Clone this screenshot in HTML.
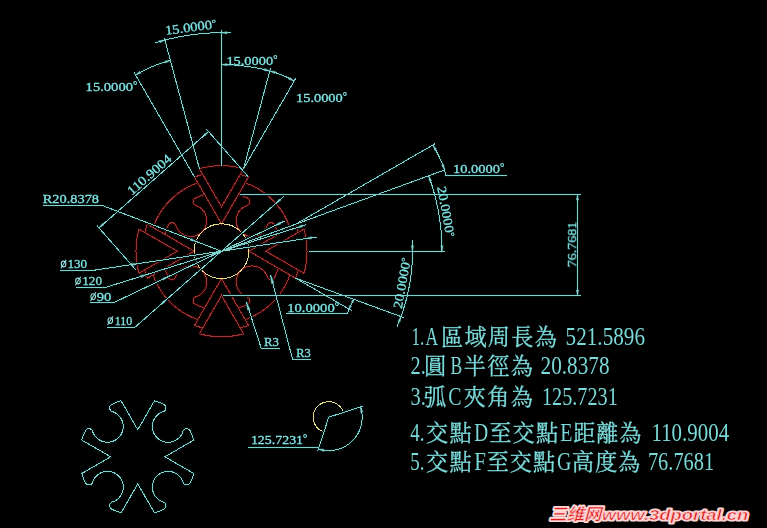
<!DOCTYPE html>
<html><head><meta charset="utf-8"><title>CAD</title>
<style>html,body{margin:0;padding:0;background:#000;}svg{display:block;}</style>
</head><body>
<svg width="767" height="528" viewBox="0 0 767 528">
<rect width="767" height="528" fill="#000"/>
<path d="M243.63 168.59 L238.18 167.32 L232.66 166.41 L227.09 165.86 L221.5 165.68 L215.91 165.86 L210.34 166.41 L204.82 167.32 L199.37 168.59 M199.37 168.59 L221.5 206.93 L243.63 168.59 M202.78 174.51 L198.61 175.65 L194.5 177.02 M240.22 174.51 L244.39 175.65 L248.5 177.02 M194.5 177.02 L221.5 223.78 L248.5 177.02 M197.84 182.81 L192.76 184.79 L187.84 187.14 L183.11 189.86 L178.6 192.93 L174.33 196.32 L170.33 200.03 L166.62 204.03 L163.23 208.3 L160.16 212.81 L157.44 217.54 L155.09 222.46 L153.11 227.54 M204.57 194.46 L199.81 196.11 L195.21 198.15 L195.21 198.15 L194.85 198.35 L194.52 198.59 L194.21 198.85 L193.94 199.15 L193.69 199.47 L193.48 199.82 L193.31 200.19 L193.17 200.57 L193.08 200.97 L193.03 201.37 L193.01 201.78 L193.04 202.18 L193.12 202.58 L193.23 202.97 L193.38 203.35 L193.57 203.71 L193.8 204.05 L194.06 204.36 L194.35 204.65 L194.66 204.9 L195.01 205.12 L195.37 205.3 L195.75 205.45 L195.75 205.45 L197.27 206.02 L198.72 206.75 L200.09 207.62 L201.36 208.63 L202.53 209.76 L203.57 211.01 L204.48 212.35 L205.25 213.79 L205.86 215.29 L206.33 216.84 L206.63 218.44 L206.76 220.06 L206.73 221.68 L206.53 223.3 L206.18 224.88 L205.66 226.42 L204.98 227.9 L204.16 229.3 L203.2 230.61 L202.11 231.81 L200.91 232.9 L199.6 233.86 L198.2 234.68 L196.72 235.36 L195.18 235.88 L193.6 236.23 L191.98 236.43 L190.36 236.46 L188.74 236.33 L187.14 236.03 L185.59 235.56 L184.09 234.95 L182.65 234.18 L181.31 233.27 L180.06 232.23 L178.93 231.06 L177.92 229.79 L177.05 228.42 L176.32 226.97 L175.75 225.45 L175.75 225.45 L175.6 225.07 L175.42 224.71 L175.2 224.36 L174.95 224.05 L174.66 223.76 L174.35 223.5 L174.01 223.27 L173.65 223.08 L173.27 222.93 L172.88 222.82 L172.48 222.74 L172.08 222.71 L171.67 222.73 L171.27 222.78 L170.87 222.87 L170.49 223.01 L170.12 223.18 L169.77 223.39 L169.45 223.64 L169.15 223.91 L168.89 224.22 L168.65 224.55 L168.45 224.91 L168.45 224.91 L166.41 229.51 L164.76 234.27 M138.89 229.07 L137.62 234.52 L136.71 240.04 L136.16 245.61 L135.98 251.2 L136.16 256.79 L136.71 262.36 L137.62 267.88 L138.89 273.33 M138.89 273.33 L177.23 251.2 L138.89 229.07 M144.81 269.92 L145.95 274.09 L147.32 278.2 M144.81 232.48 L145.95 228.31 L147.32 224.2 M147.32 278.2 L194.08 251.2 L147.32 224.2 M153.11 274.86 L155.09 279.94 L157.44 284.86 L160.16 289.59 L163.23 294.1 L166.62 298.37 L170.33 302.37 L174.33 306.08 L178.6 309.47 L183.11 312.54 L187.84 315.26 L192.76 317.61 L197.84 319.59 M164.76 268.13 L166.41 272.89 L168.45 277.49 L168.45 277.49 L168.65 277.85 L168.89 278.18 L169.15 278.49 L169.45 278.76 L169.77 279.01 L170.12 279.22 L170.49 279.39 L170.87 279.53 L171.27 279.62 L171.67 279.67 L172.08 279.69 L172.48 279.66 L172.88 279.58 L173.27 279.47 L173.65 279.32 L174.01 279.13 L174.35 278.9 L174.66 278.64 L174.95 278.35 L175.2 278.04 L175.42 277.69 L175.6 277.33 L175.75 276.95 L175.75 276.95 L176.32 275.43 L177.05 273.98 L177.92 272.61 L178.93 271.34 L180.06 270.17 L181.31 269.13 L182.65 268.22 L184.09 267.45 L185.59 266.84 L187.14 266.37 L188.74 266.07 L190.36 265.94 L191.98 265.97 L193.6 266.17 L195.18 266.52 L196.72 267.04 L198.2 267.72 L199.6 268.54 L200.91 269.5 L202.11 270.59 L203.2 271.79 L204.16 273.1 L204.98 274.5 L205.66 275.98 L206.18 277.52 L206.53 279.1 L206.73 280.72 L206.76 282.34 L206.63 283.96 L206.33 285.56 L205.86 287.11 L205.25 288.61 L204.48 290.05 L203.57 291.39 L202.53 292.64 L201.36 293.77 L200.09 294.78 L198.72 295.65 L197.27 296.38 L195.75 296.95 L195.75 296.95 L195.37 297.1 L195.01 297.28 L194.66 297.5 L194.35 297.75 L194.06 298.04 L193.8 298.35 L193.57 298.69 L193.38 299.05 L193.23 299.43 L193.12 299.82 L193.04 300.22 L193.01 300.62 L193.03 301.03 L193.08 301.43 L193.17 301.83 L193.31 302.21 L193.48 302.58 L193.69 302.93 L193.94 303.25 L194.21 303.55 L194.52 303.81 L194.85 304.05 L195.21 304.25 L195.21 304.25 L199.81 306.29 L204.57 307.94 M199.37 333.81 L204.82 335.08 L210.34 335.99 L215.91 336.54 L221.5 336.72 L227.09 336.54 L232.66 335.99 L238.18 335.08 L243.63 333.81 M243.63 333.81 L221.5 295.47 L199.37 333.81 M240.22 327.89 L244.39 326.75 L248.5 325.38 M202.78 327.89 L198.61 326.75 L194.5 325.38 M248.5 325.38 L221.5 278.62 L194.5 325.38 M245.16 319.59 L250.24 317.61 L255.16 315.26 L259.89 312.54 L264.4 309.47 L268.67 306.08 L272.67 302.37 L276.38 298.37 L279.77 294.1 L282.84 289.59 L285.56 284.86 L287.91 279.94 L289.89 274.86 M238.43 307.94 L243.19 306.29 L247.79 304.25 L247.79 304.25 L248.15 304.05 L248.48 303.81 L248.79 303.55 L249.06 303.25 L249.31 302.93 L249.52 302.58 L249.69 302.21 L249.83 301.83 L249.92 301.43 L249.97 301.03 L249.99 300.62 L249.96 300.22 L249.88 299.82 L249.77 299.43 L249.62 299.05 L249.43 298.69 L249.2 298.35 L248.94 298.04 L248.65 297.75 L248.34 297.5 L247.99 297.28 L247.63 297.1 L247.25 296.95 L247.25 296.95 L245.73 296.38 L244.28 295.65 L242.91 294.78 L241.64 293.77 L240.47 292.64 L239.43 291.39 L238.52 290.05 L237.75 288.61 L237.14 287.11 L236.67 285.56 L236.37 283.96 L236.24 282.34 L236.27 280.72 L236.47 279.1 L236.82 277.52 L237.34 275.98 L238.02 274.5 L238.84 273.1 L239.8 271.79 L240.89 270.59 L242.09 269.5 L243.4 268.54 L244.8 267.72 L246.28 267.04 L247.82 266.52 L249.4 266.17 L251.02 265.97 L252.64 265.94 L254.26 266.07 L255.86 266.37 L257.41 266.84 L258.91 267.45 L260.35 268.22 L261.69 269.13 L262.94 270.17 L264.07 271.34 L265.08 272.61 L265.95 273.98 L266.68 275.43 L267.25 276.95 L267.25 276.95 L267.4 277.33 L267.58 277.69 L267.8 278.04 L268.05 278.35 L268.34 278.64 L268.65 278.9 L268.99 279.13 L269.35 279.32 L269.73 279.47 L270.12 279.58 L270.52 279.66 L270.92 279.69 L271.33 279.67 L271.73 279.62 L272.13 279.53 L272.51 279.39 L272.88 279.22 L273.23 279.01 L273.55 278.76 L273.85 278.49 L274.11 278.18 L274.35 277.85 L274.55 277.49 L274.55 277.49 L276.59 272.89 L278.24 268.13 M304.11 273.33 L305.38 267.88 L306.29 262.36 L306.84 256.79 L307.02 251.2 L306.84 245.61 L306.29 240.04 L305.38 234.52 L304.11 229.07 M304.11 229.07 L265.77 251.2 L304.11 273.33 M298.19 232.48 L297.05 228.31 L295.68 224.2 M298.19 269.92 L297.05 274.09 L295.68 278.2 M295.68 224.2 L248.92 251.2 L295.68 278.2 M289.89 227.54 L287.91 222.46 L285.56 217.54 L282.84 212.81 L279.77 208.3 L276.38 204.03 L272.67 200.03 L268.67 196.32 L264.4 192.93 L259.89 189.86 L255.16 187.14 L250.24 184.79 L245.16 182.81 M278.24 234.27 L276.59 229.51 L274.55 224.91 L274.55 224.91 L274.35 224.55 L274.11 224.22 L273.85 223.91 L273.55 223.64 L273.23 223.39 L272.88 223.18 L272.51 223.01 L272.13 222.87 L271.73 222.78 L271.33 222.73 L270.92 222.71 L270.52 222.74 L270.12 222.82 L269.73 222.93 L269.35 223.08 L268.99 223.27 L268.65 223.5 L268.34 223.76 L268.05 224.05 L267.8 224.36 L267.58 224.71 L267.4 225.07 L267.25 225.45 L267.25 225.45 L266.68 226.97 L265.95 228.42 L265.08 229.79 L264.07 231.06 L262.94 232.23 L261.69 233.27 L260.35 234.18 L258.91 234.95 L257.41 235.56 L255.86 236.03 L254.26 236.33 L252.64 236.46 L251.02 236.43 L249.4 236.23 L247.82 235.88 L246.28 235.36 L244.8 234.68 L243.4 233.86 L242.09 232.9 L240.89 231.81 L239.8 230.61 L238.84 229.3 L238.02 227.9 L237.34 226.42 L236.82 224.88 L236.47 223.3 L236.27 221.68 L236.24 220.06 L236.37 218.44 L236.67 216.84 L237.14 215.29 L237.75 213.79 L238.52 212.35 L239.43 211.01 L240.47 209.76 L241.64 208.63 L242.91 207.62 L244.28 206.75 L245.73 206.02 L247.25 205.45 L247.25 205.45 L247.63 205.3 L247.99 205.12 L248.34 204.9 L248.65 204.65 L248.94 204.36 L249.2 204.05 L249.43 203.71 L249.62 203.35 L249.77 202.97 L249.88 202.58 L249.96 202.18 L249.99 201.78 L249.97 201.37 L249.92 200.97 L249.83 200.57 L249.69 200.19 L249.52 199.82 L249.31 199.47 L249.06 199.15 L248.79 198.85 L248.48 198.59 L248.15 198.35 L247.79 198.15 L247.79 198.15 L243.19 196.11 L238.43 194.46" fill="none" stroke="#2c0000" stroke-width="3"/>
<path d="M243.63 168.59 L238.18 167.32 L232.66 166.41 L227.09 165.86 L221.5 165.68 L215.91 165.86 L210.34 166.41 L204.82 167.32 L199.37 168.59 M199.37 168.59 L221.5 206.93 L243.63 168.59 M202.78 174.51 L198.61 175.65 L194.5 177.02 M240.22 174.51 L244.39 175.65 L248.5 177.02 M194.5 177.02 L221.5 223.78 L248.5 177.02 M197.84 182.81 L192.76 184.79 L187.84 187.14 L183.11 189.86 L178.6 192.93 L174.33 196.32 L170.33 200.03 L166.62 204.03 L163.23 208.3 L160.16 212.81 L157.44 217.54 L155.09 222.46 L153.11 227.54 M204.57 194.46 L199.81 196.11 L195.21 198.15 L195.21 198.15 L194.85 198.35 L194.52 198.59 L194.21 198.85 L193.94 199.15 L193.69 199.47 L193.48 199.82 L193.31 200.19 L193.17 200.57 L193.08 200.97 L193.03 201.37 L193.01 201.78 L193.04 202.18 L193.12 202.58 L193.23 202.97 L193.38 203.35 L193.57 203.71 L193.8 204.05 L194.06 204.36 L194.35 204.65 L194.66 204.9 L195.01 205.12 L195.37 205.3 L195.75 205.45 L195.75 205.45 L197.27 206.02 L198.72 206.75 L200.09 207.62 L201.36 208.63 L202.53 209.76 L203.57 211.01 L204.48 212.35 L205.25 213.79 L205.86 215.29 L206.33 216.84 L206.63 218.44 L206.76 220.06 L206.73 221.68 L206.53 223.3 L206.18 224.88 L205.66 226.42 L204.98 227.9 L204.16 229.3 L203.2 230.61 L202.11 231.81 L200.91 232.9 L199.6 233.86 L198.2 234.68 L196.72 235.36 L195.18 235.88 L193.6 236.23 L191.98 236.43 L190.36 236.46 L188.74 236.33 L187.14 236.03 L185.59 235.56 L184.09 234.95 L182.65 234.18 L181.31 233.27 L180.06 232.23 L178.93 231.06 L177.92 229.79 L177.05 228.42 L176.32 226.97 L175.75 225.45 L175.75 225.45 L175.6 225.07 L175.42 224.71 L175.2 224.36 L174.95 224.05 L174.66 223.76 L174.35 223.5 L174.01 223.27 L173.65 223.08 L173.27 222.93 L172.88 222.82 L172.48 222.74 L172.08 222.71 L171.67 222.73 L171.27 222.78 L170.87 222.87 L170.49 223.01 L170.12 223.18 L169.77 223.39 L169.45 223.64 L169.15 223.91 L168.89 224.22 L168.65 224.55 L168.45 224.91 L168.45 224.91 L166.41 229.51 L164.76 234.27 M138.89 229.07 L137.62 234.52 L136.71 240.04 L136.16 245.61 L135.98 251.2 L136.16 256.79 L136.71 262.36 L137.62 267.88 L138.89 273.33 M138.89 273.33 L177.23 251.2 L138.89 229.07 M144.81 269.92 L145.95 274.09 L147.32 278.2 M144.81 232.48 L145.95 228.31 L147.32 224.2 M147.32 278.2 L194.08 251.2 L147.32 224.2 M153.11 274.86 L155.09 279.94 L157.44 284.86 L160.16 289.59 L163.23 294.1 L166.62 298.37 L170.33 302.37 L174.33 306.08 L178.6 309.47 L183.11 312.54 L187.84 315.26 L192.76 317.61 L197.84 319.59 M164.76 268.13 L166.41 272.89 L168.45 277.49 L168.45 277.49 L168.65 277.85 L168.89 278.18 L169.15 278.49 L169.45 278.76 L169.77 279.01 L170.12 279.22 L170.49 279.39 L170.87 279.53 L171.27 279.62 L171.67 279.67 L172.08 279.69 L172.48 279.66 L172.88 279.58 L173.27 279.47 L173.65 279.32 L174.01 279.13 L174.35 278.9 L174.66 278.64 L174.95 278.35 L175.2 278.04 L175.42 277.69 L175.6 277.33 L175.75 276.95 L175.75 276.95 L176.32 275.43 L177.05 273.98 L177.92 272.61 L178.93 271.34 L180.06 270.17 L181.31 269.13 L182.65 268.22 L184.09 267.45 L185.59 266.84 L187.14 266.37 L188.74 266.07 L190.36 265.94 L191.98 265.97 L193.6 266.17 L195.18 266.52 L196.72 267.04 L198.2 267.72 L199.6 268.54 L200.91 269.5 L202.11 270.59 L203.2 271.79 L204.16 273.1 L204.98 274.5 L205.66 275.98 L206.18 277.52 L206.53 279.1 L206.73 280.72 L206.76 282.34 L206.63 283.96 L206.33 285.56 L205.86 287.11 L205.25 288.61 L204.48 290.05 L203.57 291.39 L202.53 292.64 L201.36 293.77 L200.09 294.78 L198.72 295.65 L197.27 296.38 L195.75 296.95 L195.75 296.95 L195.37 297.1 L195.01 297.28 L194.66 297.5 L194.35 297.75 L194.06 298.04 L193.8 298.35 L193.57 298.69 L193.38 299.05 L193.23 299.43 L193.12 299.82 L193.04 300.22 L193.01 300.62 L193.03 301.03 L193.08 301.43 L193.17 301.83 L193.31 302.21 L193.48 302.58 L193.69 302.93 L193.94 303.25 L194.21 303.55 L194.52 303.81 L194.85 304.05 L195.21 304.25 L195.21 304.25 L199.81 306.29 L204.57 307.94 M199.37 333.81 L204.82 335.08 L210.34 335.99 L215.91 336.54 L221.5 336.72 L227.09 336.54 L232.66 335.99 L238.18 335.08 L243.63 333.81 M243.63 333.81 L221.5 295.47 L199.37 333.81 M240.22 327.89 L244.39 326.75 L248.5 325.38 M202.78 327.89 L198.61 326.75 L194.5 325.38 M248.5 325.38 L221.5 278.62 L194.5 325.38 M245.16 319.59 L250.24 317.61 L255.16 315.26 L259.89 312.54 L264.4 309.47 L268.67 306.08 L272.67 302.37 L276.38 298.37 L279.77 294.1 L282.84 289.59 L285.56 284.86 L287.91 279.94 L289.89 274.86 M238.43 307.94 L243.19 306.29 L247.79 304.25 L247.79 304.25 L248.15 304.05 L248.48 303.81 L248.79 303.55 L249.06 303.25 L249.31 302.93 L249.52 302.58 L249.69 302.21 L249.83 301.83 L249.92 301.43 L249.97 301.03 L249.99 300.62 L249.96 300.22 L249.88 299.82 L249.77 299.43 L249.62 299.05 L249.43 298.69 L249.2 298.35 L248.94 298.04 L248.65 297.75 L248.34 297.5 L247.99 297.28 L247.63 297.1 L247.25 296.95 L247.25 296.95 L245.73 296.38 L244.28 295.65 L242.91 294.78 L241.64 293.77 L240.47 292.64 L239.43 291.39 L238.52 290.05 L237.75 288.61 L237.14 287.11 L236.67 285.56 L236.37 283.96 L236.24 282.34 L236.27 280.72 L236.47 279.1 L236.82 277.52 L237.34 275.98 L238.02 274.5 L238.84 273.1 L239.8 271.79 L240.89 270.59 L242.09 269.5 L243.4 268.54 L244.8 267.72 L246.28 267.04 L247.82 266.52 L249.4 266.17 L251.02 265.97 L252.64 265.94 L254.26 266.07 L255.86 266.37 L257.41 266.84 L258.91 267.45 L260.35 268.22 L261.69 269.13 L262.94 270.17 L264.07 271.34 L265.08 272.61 L265.95 273.98 L266.68 275.43 L267.25 276.95 L267.25 276.95 L267.4 277.33 L267.58 277.69 L267.8 278.04 L268.05 278.35 L268.34 278.64 L268.65 278.9 L268.99 279.13 L269.35 279.32 L269.73 279.47 L270.12 279.58 L270.52 279.66 L270.92 279.69 L271.33 279.67 L271.73 279.62 L272.13 279.53 L272.51 279.39 L272.88 279.22 L273.23 279.01 L273.55 278.76 L273.85 278.49 L274.11 278.18 L274.35 277.85 L274.55 277.49 L274.55 277.49 L276.59 272.89 L278.24 268.13 M304.11 273.33 L305.38 267.88 L306.29 262.36 L306.84 256.79 L307.02 251.2 L306.84 245.61 L306.29 240.04 L305.38 234.52 L304.11 229.07 M304.11 229.07 L265.77 251.2 L304.11 273.33 M298.19 232.48 L297.05 228.31 L295.68 224.2 M298.19 269.92 L297.05 274.09 L295.68 278.2 M295.68 224.2 L248.92 251.2 L295.68 278.2 M289.89 227.54 L287.91 222.46 L285.56 217.54 L282.84 212.81 L279.77 208.3 L276.38 204.03 L272.67 200.03 L268.67 196.32 L264.4 192.93 L259.89 189.86 L255.16 187.14 L250.24 184.79 L245.16 182.81 M278.24 234.27 L276.59 229.51 L274.55 224.91 L274.55 224.91 L274.35 224.55 L274.11 224.22 L273.85 223.91 L273.55 223.64 L273.23 223.39 L272.88 223.18 L272.51 223.01 L272.13 222.87 L271.73 222.78 L271.33 222.73 L270.92 222.71 L270.52 222.74 L270.12 222.82 L269.73 222.93 L269.35 223.08 L268.99 223.27 L268.65 223.5 L268.34 223.76 L268.05 224.05 L267.8 224.36 L267.58 224.71 L267.4 225.07 L267.25 225.45 L267.25 225.45 L266.68 226.97 L265.95 228.42 L265.08 229.79 L264.07 231.06 L262.94 232.23 L261.69 233.27 L260.35 234.18 L258.91 234.95 L257.41 235.56 L255.86 236.03 L254.26 236.33 L252.64 236.46 L251.02 236.43 L249.4 236.23 L247.82 235.88 L246.28 235.36 L244.8 234.68 L243.4 233.86 L242.09 232.9 L240.89 231.81 L239.8 230.61 L238.84 229.3 L238.02 227.9 L237.34 226.42 L236.82 224.88 L236.47 223.3 L236.27 221.68 L236.24 220.06 L236.37 218.44 L236.67 216.84 L237.14 215.29 L237.75 213.79 L238.52 212.35 L239.43 211.01 L240.47 209.76 L241.64 208.63 L242.91 207.62 L244.28 206.75 L245.73 206.02 L247.25 205.45 L247.25 205.45 L247.63 205.3 L247.99 205.12 L248.34 204.9 L248.65 204.65 L248.94 204.36 L249.2 204.05 L249.43 203.71 L249.62 203.35 L249.77 202.97 L249.88 202.58 L249.96 202.18 L249.99 201.78 L249.97 201.37 L249.92 200.97 L249.83 200.57 L249.69 200.19 L249.52 199.82 L249.31 199.47 L249.06 199.15 L248.79 198.85 L248.48 198.59 L248.15 198.35 L247.79 198.15 L247.79 198.15 L243.19 196.11 L238.43 194.46" fill="none" stroke="#983636" stroke-width="1" shape-rendering="crispEdges"/>
<circle cx="221.5" cy="251.2" r="27.42" fill="none" stroke="#e6de8c" stroke-width="1" shape-rendering="crispEdges"/>
<path d="M343.45 412.45 L342.89 410.97 L342.18 409.55 L341.33 408.21 L340.35 406.97 L339.24 405.84 L338.03 404.82 L336.72 403.93 L335.32 403.18 L333.86 402.58 L332.34 402.13 L330.78 401.84 L329.2 401.71 L327.62 401.74 L326.05 401.93 L324.5 402.28 L323 402.79 L321.56 403.44 L320.19 404.24 L318.92 405.18 L317.74 406.24 L316.68 407.42 L315.74 408.69 L314.94 410.06 L314.29 411.5 L313.78 413 L313.43 414.55 L313.24 416.12 L313.21 417.7 L313.34 419.28 L313.63 420.84 L314.08 422.36 L314.68 423.82 L315.43 425.22 L316.32 426.53 L317.34 427.74 L318.47 428.85 L319.71 429.83 L321.05 430.68 L322.47 431.39 L323.95 431.95" fill="none" stroke="#e6de8c" stroke-width="1" shape-rendering="crispEdges"/>
<path d="M221.5 29.6 L221.5 165.68 M199.37 168.59 L164.3 37.73 M231.41 32.92 L228.17 32.8 L224.93 32.73 L221.69 32.7 L218.45 32.72 L215.21 32.79 L211.97 32.91 L208.73 33.07 L205.5 33.29 L202.27 33.55 L199.04 33.86 L195.82 34.21 L192.6 34.62 L189.39 35.07 L186.19 35.57 L182.99 36.12 L179.81 36.71 L176.63 37.36 L173.46 38.05 L170.31 38.78 L167.16 39.56 L164.03 40.39 L160.91 41.27 L157.8 42.19 L154.71 43.16 M194.5 177.02 L134.04 72.3 M170.39 60.46 L168.87 60.88 L167.36 61.31 L165.85 61.76 L164.34 62.23 L162.84 62.71 L161.34 63.21 L159.85 63.72 L158.37 64.25 L156.89 64.8 L155.42 65.37 L153.95 65.94 L152.49 66.54 L151.04 67.15 L149.59 67.78 L148.16 68.42 L146.72 69.08 L145.3 69.75 L143.88 70.44 L142.47 71.15 L141.07 71.87 L139.68 72.6 L138.29 73.35 L136.91 74.12 L135.54 74.9 M243.63 168.59 L270.68 67.67 M269.8 70.96 L267.83 70.44 L265.85 69.95 L263.87 69.47 L261.89 69.02 L259.9 68.59 L257.9 68.19 L255.91 67.8 L253.9 67.43 L251.9 67.09 L249.89 66.77 L247.87 66.47 L245.86 66.2 L243.84 65.94 L241.81 65.71 L239.79 65.5 L237.76 65.31 L235.73 65.14 L233.7 65 L231.67 64.88 L229.64 64.78 L227.61 64.7 L225.57 64.64 L223.54 64.61 L221.5 64.6 M243.63 168.59 L295.67 78.46 M294.17 81.06 L293.22 80.51 L292.25 79.97 L291.28 79.45 L290.31 78.93 L289.33 78.43 L288.34 77.94 L287.35 77.46 L286.35 76.98 L285.35 76.52 L284.34 76.07 L283.33 75.64 L282.32 75.21 L281.29 74.79 L280.27 74.39 L279.24 73.99 L278.21 73.61 L277.17 73.24 L276.13 72.88 L275.08 72.53 L274.03 72.19 L272.98 71.87 L271.92 71.55 L270.86 71.25 L269.8 70.96 M247.84 176.27 L206.58 129.32 M135.59 269.58 L96.98 225.63 M208.56 131.57 L98.96 227.89 M42.8 205.1 L101.4 205.1 L221.5 251.2 M60 270.6 L91.6 270.6 L316.74 236.98 M75.6 287.6 L105 287.6 L306.35 224.69 M89.9 302.7 L113.7 302.7 L284.48 221.11 M106.9 327.3 L134.9 327.3 L283.85 196.41 M239.63 194.5 L581 194.5 M222.7 295.5 L581 295.5 M577.5 194.5 L577.5 295.5 M308.7 251.5 L445 251.5 M221.5 251.2 L444.96 169.87 M442 251.2 L441.98 247.99 L441.91 244.79 L441.79 241.58 L441.63 238.38 L441.42 235.18 L441.16 231.98 L440.86 228.79 L440.51 225.6 L440.11 222.42 L439.67 219.24 L439.18 216.07 L438.65 212.91 L438.07 209.76 L437.44 206.61 L436.77 203.48 L436.06 200.35 L435.29 197.23 L434.49 194.13 L433.63 191.04 L432.74 187.96 L431.79 184.89 L430.81 181.84 L429.78 178.81 L428.7 175.78 M295.68 224.2 L435.11 143.7 M432.95 144.95 L433.52 145.95 L434.08 146.95 L434.64 147.96 L435.19 148.98 L435.74 149.99 L436.27 151.01 L436.8 152.04 L437.32 153.07 L437.84 154.1 L438.34 155.13 L438.84 156.17 L439.33 157.22 L439.81 158.26 L440.29 159.31 L440.76 160.36 L441.22 161.42 L441.67 162.48 L442.12 163.54 L442.55 164.61 L442.98 165.68 L443.4 166.75 L443.82 167.83 L444.22 168.91 L444.62 169.99 M444.62 169.99 L445.6 175.6 L506.9 175.6 M295.68 278.2 L404.27 317.72 M412.16 239.87 L412.35 243.56 L412.46 247.26 L412.5 250.95 L412.47 254.64 L412.37 258.34 L412.19 262.03 L411.95 265.71 L411.63 269.4 L411.24 273.07 L410.79 276.74 L410.26 280.39 L409.66 284.04 L408.99 287.67 L408.24 291.29 L407.43 294.9 L406.55 298.48 L405.61 302.06 L404.59 305.61 L403.5 309.14 L402.35 312.65 L401.12 316.13 L399.83 319.6 L398.48 323.03 L397.05 326.44 M295.68 278.2 L351.97 310.7 M353.47 299.23 L353.32 299.65 L353.16 300.07 L353 300.49 L352.84 300.91 L352.67 301.32 L352.5 301.73 L352.33 302.15 L352.15 302.56 L351.97 302.97 L351.79 303.38 L351.61 303.78 L351.42 304.19 L351.23 304.6 L351.04 305 L350.84 305.4 L350.64 305.8 L350.44 306.2 L350.23 306.6 L350.02 306.99 L349.81 307.39 L349.6 307.78 L349.38 308.17 L349.16 308.56 L348.94 308.95 M348.94 308.95 L347.6 313.4 L286 313.4 M280 348.5 L261.3 348.5 L246.3 301.7 M311.3 359 L292.5 359 L270.6 275 M121.07 400.74 L116.37 402.37 L111.82 404.38 L111.82 404.38 L111.47 404.58 L111.14 404.81 L110.84 405.08 L110.57 405.37 L110.32 405.69 L110.12 406.04 L109.95 406.4 L109.81 406.78 L109.72 407.17 L109.67 407.57 L109.65 407.97 L109.68 408.37 L109.75 408.76 L109.87 409.15 L110.02 409.52 L110.2 409.88 L110.43 410.21 L110.68 410.52 L110.97 410.8 L111.28 411.05 L111.62 411.27 L111.98 411.45 L112.36 411.59 L112.36 411.59 L113.86 412.16 L115.29 412.88 L116.64 413.74 L117.9 414.74 L119.05 415.86 L120.08 417.09 L120.98 418.42 L121.74 419.83 L122.35 421.32 L122.81 422.85 L123.1 424.43 L123.24 426.03 L123.21 427.64 L123.01 429.23 L122.66 430.79 L122.15 432.31 L121.48 433.77 L120.67 435.16 L119.72 436.45 L118.65 437.65 L117.45 438.72 L116.16 439.67 L114.77 440.48 L113.31 441.15 L111.79 441.66 L110.23 442.01 L108.64 442.21 L107.03 442.24 L105.43 442.1 L103.85 441.81 L102.32 441.35 L100.83 440.74 L99.42 439.98 L98.09 439.08 L96.86 438.05 L95.74 436.9 L94.74 435.64 L93.88 434.29 L93.16 432.86 L92.59 431.36 L92.59 431.36 L92.45 430.98 L92.27 430.62 L92.05 430.28 L91.8 429.97 L91.52 429.68 L91.21 429.43 L90.88 429.2 L90.52 429.02 L90.15 428.87 L89.76 428.75 L89.37 428.68 L88.97 428.65 L88.57 428.67 L88.17 428.72 L87.78 428.81 L87.4 428.95 L87.04 429.12 L86.69 429.32 L86.37 429.57 L86.08 429.84 L85.81 430.14 L85.58 430.47 L85.38 430.82 L85.38 430.82 L83.37 435.37 L81.74 440.07 L110.71 456.8 L81.74 473.53 L83.37 478.23 L85.38 482.78 L85.38 482.78 L85.58 483.13 L85.81 483.46 L86.08 483.76 L86.37 484.03 L86.69 484.28 L87.04 484.48 L87.4 484.65 L87.78 484.79 L88.17 484.88 L88.57 484.93 L88.97 484.95 L89.37 484.92 L89.76 484.85 L90.15 484.73 L90.52 484.58 L90.88 484.4 L91.21 484.17 L91.52 483.92 L91.8 483.63 L92.05 483.32 L92.27 482.98 L92.45 482.62 L92.59 482.24 L92.59 482.24 L93.16 480.74 L93.88 479.31 L94.74 477.96 L95.74 476.7 L96.86 475.55 L98.09 474.52 L99.42 473.62 L100.83 472.86 L102.32 472.25 L103.85 471.79 L105.43 471.5 L107.03 471.36 L108.64 471.39 L110.23 471.59 L111.79 471.94 L113.31 472.45 L114.77 473.12 L116.16 473.93 L117.45 474.88 L118.65 475.95 L119.72 477.15 L120.67 478.44 L121.48 479.83 L122.15 481.29 L122.66 482.81 L123.01 484.37 L123.21 485.96 L123.24 487.57 L123.1 489.17 L122.81 490.75 L122.35 492.28 L121.74 493.77 L120.98 495.18 L120.08 496.51 L119.05 497.74 L117.9 498.86 L116.64 499.86 L115.29 500.72 L113.86 501.44 L112.36 502.01 L112.36 502.01 L111.98 502.15 L111.62 502.33 L111.28 502.55 L110.97 502.8 L110.68 503.08 L110.43 503.39 L110.2 503.72 L110.02 504.08 L109.87 504.45 L109.75 504.84 L109.68 505.23 L109.65 505.63 L109.67 506.03 L109.72 506.43 L109.81 506.82 L109.95 507.2 L110.12 507.56 L110.32 507.91 L110.57 508.23 L110.84 508.52 L111.14 508.79 L111.47 509.02 L111.82 509.22 L111.82 509.22 L116.37 511.23 L121.07 512.86 L137.8 483.89 L154.53 512.86 L159.23 511.23 L163.78 509.22 L163.78 509.22 L164.13 509.02 L164.46 508.79 L164.76 508.52 L165.03 508.23 L165.28 507.91 L165.48 507.56 L165.65 507.2 L165.79 506.82 L165.88 506.43 L165.93 506.03 L165.95 505.63 L165.92 505.23 L165.85 504.84 L165.73 504.45 L165.58 504.08 L165.4 503.72 L165.17 503.39 L164.92 503.08 L164.63 502.8 L164.32 502.55 L163.98 502.33 L163.62 502.15 L163.24 502.01 L163.24 502.01 L161.74 501.44 L160.31 500.72 L158.96 499.86 L157.7 498.86 L156.55 497.74 L155.52 496.51 L154.62 495.18 L153.86 493.77 L153.25 492.28 L152.79 490.75 L152.5 489.17 L152.36 487.57 L152.39 485.96 L152.59 484.37 L152.94 482.81 L153.45 481.29 L154.12 479.83 L154.93 478.44 L155.88 477.15 L156.95 475.95 L158.15 474.88 L159.44 473.93 L160.83 473.12 L162.29 472.45 L163.81 471.94 L165.37 471.59 L166.96 471.39 L168.57 471.36 L170.17 471.5 L171.75 471.79 L173.28 472.25 L174.77 472.86 L176.18 473.62 L177.51 474.52 L178.74 475.55 L179.86 476.7 L180.86 477.96 L181.72 479.31 L182.44 480.74 L183.01 482.24 L183.01 482.24 L183.15 482.62 L183.33 482.98 L183.55 483.32 L183.8 483.63 L184.08 483.92 L184.39 484.17 L184.72 484.4 L185.08 484.58 L185.45 484.73 L185.84 484.85 L186.23 484.92 L186.63 484.95 L187.03 484.93 L187.43 484.88 L187.82 484.79 L188.2 484.65 L188.56 484.48 L188.91 484.28 L189.23 484.03 L189.52 483.76 L189.79 483.46 L190.02 483.13 L190.22 482.78 L190.22 482.78 L192.23 478.23 L193.86 473.53 L164.89 456.8 L193.86 440.07 L192.23 435.37 L190.22 430.82 L190.22 430.82 L190.02 430.47 L189.79 430.14 L189.52 429.84 L189.23 429.57 L188.91 429.32 L188.56 429.12 L188.2 428.95 L187.82 428.81 L187.43 428.72 L187.03 428.67 L186.63 428.65 L186.23 428.68 L185.84 428.75 L185.45 428.87 L185.08 429.02 L184.72 429.2 L184.39 429.43 L184.08 429.68 L183.8 429.97 L183.55 430.28 L183.33 430.62 L183.15 430.98 L183.01 431.36 L183.01 431.36 L182.44 432.86 L181.72 434.29 L180.86 435.64 L179.86 436.9 L178.74 438.05 L177.51 439.08 L176.18 439.98 L174.77 440.74 L173.28 441.35 L171.75 441.81 L170.17 442.1 L168.57 442.24 L166.96 442.21 L165.37 442.01 L163.81 441.66 L162.29 441.15 L160.83 440.48 L159.44 439.67 L158.15 438.72 L156.95 437.65 L155.88 436.45 L154.93 435.16 L154.12 433.77 L153.45 432.31 L152.94 430.79 L152.59 429.23 L152.39 427.64 L152.36 426.03 L152.5 424.43 L152.79 422.85 L153.25 421.32 L153.86 419.83 L154.62 418.42 L155.52 417.09 L156.55 415.86 L157.7 414.74 L158.96 413.74 L160.31 412.88 L161.74 412.16 L163.24 411.59 L163.24 411.59 L163.62 411.45 L163.98 411.27 L164.32 411.05 L164.63 410.8 L164.92 410.52 L165.17 410.21 L165.4 409.88 L165.58 409.52 L165.73 409.15 L165.85 408.76 L165.92 408.37 L165.95 407.97 L165.93 407.57 L165.88 407.17 L165.79 406.78 L165.65 406.4 L165.48 406.04 L165.28 405.69 L165.03 405.37 L164.76 405.08 L164.46 404.81 L164.13 404.58 L163.78 404.38 L163.78 404.38 L159.23 402.37 L154.53 400.74 L137.8 429.71 Z M363.35 406.04 L328.7 417.2 L317.87 450.8 M360.59 406.92 L361.39 409.88 L361.92 412.89 L362.18 415.95 L362.15 419.01 L361.85 422.05 L361.26 425.06 L360.41 428 L359.29 430.85 L357.92 433.59 L356.3 436.19 L354.45 438.63 L352.39 440.89 L350.13 442.95 L347.69 444.8 L345.09 446.42 L342.35 447.79 L339.5 448.91 L336.56 449.76 L333.55 450.35 L330.51 450.65 L327.45 450.68 L324.39 450.42 L321.38 449.89 L318.42 449.09 M319.3 447.4 L247.7 447.4" fill="none" stroke="#001212" stroke-width="3"/>
<path d="M221.5 29.6 L221.5 165.68 M199.37 168.59 L164.3 37.73 M231.41 32.92 L228.17 32.8 L224.93 32.73 L221.69 32.7 L218.45 32.72 L215.21 32.79 L211.97 32.91 L208.73 33.07 L205.5 33.29 L202.27 33.55 L199.04 33.86 L195.82 34.21 L192.6 34.62 L189.39 35.07 L186.19 35.57 L182.99 36.12 L179.81 36.71 L176.63 37.36 L173.46 38.05 L170.31 38.78 L167.16 39.56 L164.03 40.39 L160.91 41.27 L157.8 42.19 L154.71 43.16 M194.5 177.02 L134.04 72.3 M170.39 60.46 L168.87 60.88 L167.36 61.31 L165.85 61.76 L164.34 62.23 L162.84 62.71 L161.34 63.21 L159.85 63.72 L158.37 64.25 L156.89 64.8 L155.42 65.37 L153.95 65.94 L152.49 66.54 L151.04 67.15 L149.59 67.78 L148.16 68.42 L146.72 69.08 L145.3 69.75 L143.88 70.44 L142.47 71.15 L141.07 71.87 L139.68 72.6 L138.29 73.35 L136.91 74.12 L135.54 74.9 M243.63 168.59 L270.68 67.67 M269.8 70.96 L267.83 70.44 L265.85 69.95 L263.87 69.47 L261.89 69.02 L259.9 68.59 L257.9 68.19 L255.91 67.8 L253.9 67.43 L251.9 67.09 L249.89 66.77 L247.87 66.47 L245.86 66.2 L243.84 65.94 L241.81 65.71 L239.79 65.5 L237.76 65.31 L235.73 65.14 L233.7 65 L231.67 64.88 L229.64 64.78 L227.61 64.7 L225.57 64.64 L223.54 64.61 L221.5 64.6 M243.63 168.59 L295.67 78.46 M294.17 81.06 L293.22 80.51 L292.25 79.97 L291.28 79.45 L290.31 78.93 L289.33 78.43 L288.34 77.94 L287.35 77.46 L286.35 76.98 L285.35 76.52 L284.34 76.07 L283.33 75.64 L282.32 75.21 L281.29 74.79 L280.27 74.39 L279.24 73.99 L278.21 73.61 L277.17 73.24 L276.13 72.88 L275.08 72.53 L274.03 72.19 L272.98 71.87 L271.92 71.55 L270.86 71.25 L269.8 70.96 M247.84 176.27 L206.58 129.32 M135.59 269.58 L96.98 225.63 M208.56 131.57 L98.96 227.89 M42.8 205.1 L101.4 205.1 L221.5 251.2 M60 270.6 L91.6 270.6 L316.74 236.98 M75.6 287.6 L105 287.6 L306.35 224.69 M89.9 302.7 L113.7 302.7 L284.48 221.11 M106.9 327.3 L134.9 327.3 L283.85 196.41 M239.63 194.5 L581 194.5 M222.7 295.5 L581 295.5 M577.5 194.5 L577.5 295.5 M308.7 251.5 L445 251.5 M221.5 251.2 L444.96 169.87 M442 251.2 L441.98 247.99 L441.91 244.79 L441.79 241.58 L441.63 238.38 L441.42 235.18 L441.16 231.98 L440.86 228.79 L440.51 225.6 L440.11 222.42 L439.67 219.24 L439.18 216.07 L438.65 212.91 L438.07 209.76 L437.44 206.61 L436.77 203.48 L436.06 200.35 L435.29 197.23 L434.49 194.13 L433.63 191.04 L432.74 187.96 L431.79 184.89 L430.81 181.84 L429.78 178.81 L428.7 175.78 M295.68 224.2 L435.11 143.7 M432.95 144.95 L433.52 145.95 L434.08 146.95 L434.64 147.96 L435.19 148.98 L435.74 149.99 L436.27 151.01 L436.8 152.04 L437.32 153.07 L437.84 154.1 L438.34 155.13 L438.84 156.17 L439.33 157.22 L439.81 158.26 L440.29 159.31 L440.76 160.36 L441.22 161.42 L441.67 162.48 L442.12 163.54 L442.55 164.61 L442.98 165.68 L443.4 166.75 L443.82 167.83 L444.22 168.91 L444.62 169.99 M444.62 169.99 L445.6 175.6 L506.9 175.6 M295.68 278.2 L404.27 317.72 M412.16 239.87 L412.35 243.56 L412.46 247.26 L412.5 250.95 L412.47 254.64 L412.37 258.34 L412.19 262.03 L411.95 265.71 L411.63 269.4 L411.24 273.07 L410.79 276.74 L410.26 280.39 L409.66 284.04 L408.99 287.67 L408.24 291.29 L407.43 294.9 L406.55 298.48 L405.61 302.06 L404.59 305.61 L403.5 309.14 L402.35 312.65 L401.12 316.13 L399.83 319.6 L398.48 323.03 L397.05 326.44 M295.68 278.2 L351.97 310.7 M353.47 299.23 L353.32 299.65 L353.16 300.07 L353 300.49 L352.84 300.91 L352.67 301.32 L352.5 301.73 L352.33 302.15 L352.15 302.56 L351.97 302.97 L351.79 303.38 L351.61 303.78 L351.42 304.19 L351.23 304.6 L351.04 305 L350.84 305.4 L350.64 305.8 L350.44 306.2 L350.23 306.6 L350.02 306.99 L349.81 307.39 L349.6 307.78 L349.38 308.17 L349.16 308.56 L348.94 308.95 M348.94 308.95 L347.6 313.4 L286 313.4 M280 348.5 L261.3 348.5 L246.3 301.7 M311.3 359 L292.5 359 L270.6 275 M121.07 400.74 L116.37 402.37 L111.82 404.38 L111.82 404.38 L111.47 404.58 L111.14 404.81 L110.84 405.08 L110.57 405.37 L110.32 405.69 L110.12 406.04 L109.95 406.4 L109.81 406.78 L109.72 407.17 L109.67 407.57 L109.65 407.97 L109.68 408.37 L109.75 408.76 L109.87 409.15 L110.02 409.52 L110.2 409.88 L110.43 410.21 L110.68 410.52 L110.97 410.8 L111.28 411.05 L111.62 411.27 L111.98 411.45 L112.36 411.59 L112.36 411.59 L113.86 412.16 L115.29 412.88 L116.64 413.74 L117.9 414.74 L119.05 415.86 L120.08 417.09 L120.98 418.42 L121.74 419.83 L122.35 421.32 L122.81 422.85 L123.1 424.43 L123.24 426.03 L123.21 427.64 L123.01 429.23 L122.66 430.79 L122.15 432.31 L121.48 433.77 L120.67 435.16 L119.72 436.45 L118.65 437.65 L117.45 438.72 L116.16 439.67 L114.77 440.48 L113.31 441.15 L111.79 441.66 L110.23 442.01 L108.64 442.21 L107.03 442.24 L105.43 442.1 L103.85 441.81 L102.32 441.35 L100.83 440.74 L99.42 439.98 L98.09 439.08 L96.86 438.05 L95.74 436.9 L94.74 435.64 L93.88 434.29 L93.16 432.86 L92.59 431.36 L92.59 431.36 L92.45 430.98 L92.27 430.62 L92.05 430.28 L91.8 429.97 L91.52 429.68 L91.21 429.43 L90.88 429.2 L90.52 429.02 L90.15 428.87 L89.76 428.75 L89.37 428.68 L88.97 428.65 L88.57 428.67 L88.17 428.72 L87.78 428.81 L87.4 428.95 L87.04 429.12 L86.69 429.32 L86.37 429.57 L86.08 429.84 L85.81 430.14 L85.58 430.47 L85.38 430.82 L85.38 430.82 L83.37 435.37 L81.74 440.07 L110.71 456.8 L81.74 473.53 L83.37 478.23 L85.38 482.78 L85.38 482.78 L85.58 483.13 L85.81 483.46 L86.08 483.76 L86.37 484.03 L86.69 484.28 L87.04 484.48 L87.4 484.65 L87.78 484.79 L88.17 484.88 L88.57 484.93 L88.97 484.95 L89.37 484.92 L89.76 484.85 L90.15 484.73 L90.52 484.58 L90.88 484.4 L91.21 484.17 L91.52 483.92 L91.8 483.63 L92.05 483.32 L92.27 482.98 L92.45 482.62 L92.59 482.24 L92.59 482.24 L93.16 480.74 L93.88 479.31 L94.74 477.96 L95.74 476.7 L96.86 475.55 L98.09 474.52 L99.42 473.62 L100.83 472.86 L102.32 472.25 L103.85 471.79 L105.43 471.5 L107.03 471.36 L108.64 471.39 L110.23 471.59 L111.79 471.94 L113.31 472.45 L114.77 473.12 L116.16 473.93 L117.45 474.88 L118.65 475.95 L119.72 477.15 L120.67 478.44 L121.48 479.83 L122.15 481.29 L122.66 482.81 L123.01 484.37 L123.21 485.96 L123.24 487.57 L123.1 489.17 L122.81 490.75 L122.35 492.28 L121.74 493.77 L120.98 495.18 L120.08 496.51 L119.05 497.74 L117.9 498.86 L116.64 499.86 L115.29 500.72 L113.86 501.44 L112.36 502.01 L112.36 502.01 L111.98 502.15 L111.62 502.33 L111.28 502.55 L110.97 502.8 L110.68 503.08 L110.43 503.39 L110.2 503.72 L110.02 504.08 L109.87 504.45 L109.75 504.84 L109.68 505.23 L109.65 505.63 L109.67 506.03 L109.72 506.43 L109.81 506.82 L109.95 507.2 L110.12 507.56 L110.32 507.91 L110.57 508.23 L110.84 508.52 L111.14 508.79 L111.47 509.02 L111.82 509.22 L111.82 509.22 L116.37 511.23 L121.07 512.86 L137.8 483.89 L154.53 512.86 L159.23 511.23 L163.78 509.22 L163.78 509.22 L164.13 509.02 L164.46 508.79 L164.76 508.52 L165.03 508.23 L165.28 507.91 L165.48 507.56 L165.65 507.2 L165.79 506.82 L165.88 506.43 L165.93 506.03 L165.95 505.63 L165.92 505.23 L165.85 504.84 L165.73 504.45 L165.58 504.08 L165.4 503.72 L165.17 503.39 L164.92 503.08 L164.63 502.8 L164.32 502.55 L163.98 502.33 L163.62 502.15 L163.24 502.01 L163.24 502.01 L161.74 501.44 L160.31 500.72 L158.96 499.86 L157.7 498.86 L156.55 497.74 L155.52 496.51 L154.62 495.18 L153.86 493.77 L153.25 492.28 L152.79 490.75 L152.5 489.17 L152.36 487.57 L152.39 485.96 L152.59 484.37 L152.94 482.81 L153.45 481.29 L154.12 479.83 L154.93 478.44 L155.88 477.15 L156.95 475.95 L158.15 474.88 L159.44 473.93 L160.83 473.12 L162.29 472.45 L163.81 471.94 L165.37 471.59 L166.96 471.39 L168.57 471.36 L170.17 471.5 L171.75 471.79 L173.28 472.25 L174.77 472.86 L176.18 473.62 L177.51 474.52 L178.74 475.55 L179.86 476.7 L180.86 477.96 L181.72 479.31 L182.44 480.74 L183.01 482.24 L183.01 482.24 L183.15 482.62 L183.33 482.98 L183.55 483.32 L183.8 483.63 L184.08 483.92 L184.39 484.17 L184.72 484.4 L185.08 484.58 L185.45 484.73 L185.84 484.85 L186.23 484.92 L186.63 484.95 L187.03 484.93 L187.43 484.88 L187.82 484.79 L188.2 484.65 L188.56 484.48 L188.91 484.28 L189.23 484.03 L189.52 483.76 L189.79 483.46 L190.02 483.13 L190.22 482.78 L190.22 482.78 L192.23 478.23 L193.86 473.53 L164.89 456.8 L193.86 440.07 L192.23 435.37 L190.22 430.82 L190.22 430.82 L190.02 430.47 L189.79 430.14 L189.52 429.84 L189.23 429.57 L188.91 429.32 L188.56 429.12 L188.2 428.95 L187.82 428.81 L187.43 428.72 L187.03 428.67 L186.63 428.65 L186.23 428.68 L185.84 428.75 L185.45 428.87 L185.08 429.02 L184.72 429.2 L184.39 429.43 L184.08 429.68 L183.8 429.97 L183.55 430.28 L183.33 430.62 L183.15 430.98 L183.01 431.36 L183.01 431.36 L182.44 432.86 L181.72 434.29 L180.86 435.64 L179.86 436.9 L178.74 438.05 L177.51 439.08 L176.18 439.98 L174.77 440.74 L173.28 441.35 L171.75 441.81 L170.17 442.1 L168.57 442.24 L166.96 442.21 L165.37 442.01 L163.81 441.66 L162.29 441.15 L160.83 440.48 L159.44 439.67 L158.15 438.72 L156.95 437.65 L155.88 436.45 L154.93 435.16 L154.12 433.77 L153.45 432.31 L152.94 430.79 L152.59 429.23 L152.39 427.64 L152.36 426.03 L152.5 424.43 L152.79 422.85 L153.25 421.32 L153.86 419.83 L154.62 418.42 L155.52 417.09 L156.55 415.86 L157.7 414.74 L158.96 413.74 L160.31 412.88 L161.74 412.16 L163.24 411.59 L163.24 411.59 L163.62 411.45 L163.98 411.27 L164.32 411.05 L164.63 410.8 L164.92 410.52 L165.17 410.21 L165.4 409.88 L165.58 409.52 L165.73 409.15 L165.85 408.76 L165.92 408.37 L165.95 407.97 L165.93 407.57 L165.88 407.17 L165.79 406.78 L165.65 406.4 L165.48 406.04 L165.28 405.69 L165.03 405.37 L164.76 405.08 L164.46 404.81 L164.13 404.58 L163.78 404.38 L163.78 404.38 L159.23 402.37 L154.53 400.74 L137.8 429.71 Z M363.35 406.04 L328.7 417.2 L317.87 450.8 M360.59 406.92 L361.39 409.88 L361.92 412.89 L362.18 415.95 L362.15 419.01 L361.85 422.05 L361.26 425.06 L360.41 428 L359.29 430.85 L357.92 433.59 L356.3 436.19 L354.45 438.63 L352.39 440.89 L350.13 442.95 L347.69 444.8 L345.09 446.42 L342.35 447.79 L339.5 448.91 L336.56 449.76 L333.55 450.35 L330.51 450.65 L327.45 450.68 L324.39 450.42 L321.38 449.89 L318.42 449.09 M319.3 447.4 L247.7 447.4" fill="none" stroke="#80d0ce" stroke-width="1" shape-rendering="crispEdges"/>
<path d="M221.5 32.7 L227.01 31.72 L226.99 33.82 Z M164.95 40.15 L159.94 42.65 L159.37 40.62 Z M170.39 60.46 L165.4 63 L164.82 60.98 Z M135.54 74.9 L139.85 71.32 L140.86 73.16 Z M221.5 64.6 L227.01 63.63 L226.98 65.73 Z M269.8 70.96 L264.21 70.63 L264.72 68.6 Z M269.8 70.96 L275.37 71.52 L274.77 73.53 Z M294.17 81.06 L288.84 79.36 L289.84 77.51 Z M208.56 131.57 L205.13 135.99 L203.74 134.41 Z M98.96 227.89 L102.4 223.47 L103.78 225.05 Z M195.9 241.38 L190.39 240.38 L191.15 238.42 Z M136.92 263.83 L131.63 265.68 L131.32 263.61 Z M306.08 238.57 L311.37 236.72 L311.68 238.79 Z M146.15 274.74 L141.21 277.39 L140.59 275.38 Z M296.85 227.66 L301.79 225.01 L302.41 227.02 Z M168.08 276.72 L163.57 280.04 L162.66 278.15 Z M274.92 225.68 L279.43 222.36 L280.34 224.25 Z M167.14 298.97 L163.7 303.39 L162.32 301.81 Z M275.86 203.43 L279.3 199.01 L280.68 200.59 Z M577.5 194.5 L578.55 200 L576.45 200 Z M577.5 295.5 L576.45 290 L578.55 290 Z M442 251.2 L440.88 245.71 L442.98 245.69 Z M428.7 175.78 L431.51 180.63 L429.53 181.32 Z M444.62 169.99 L441.67 165.23 L443.63 164.48 Z M432.95 144.95 L436.53 149.25 L434.69 150.27 Z M412.5 251.2 L411.37 245.72 L413.47 245.69 Z M400.98 316.53 L400.01 322.04 L398.04 321.29 Z M353.47 299.23 L353.16 302.87 L351.21 302.1 Z M348.94 308.95 L349.68 305.37 L351.53 306.37 Z M246.3 301.7 L250.08 309.41 L247.7 310.18 Z M270.6 275 L273.95 282.91 L271.53 283.54 Z M360.59 406.92 L362.86 412.04 L360.81 412.52 Z M318.42 449.09 L324.02 449.31 L323.54 451.36 Z" fill="#80d0ce" stroke="#80d0ce" stroke-width="0.5"/>
<g opacity="0.99" fill="#80e6e6" stroke="#80e6e6" stroke-width="0.3"><text x="191.2" y="31.5" font-size="12.9" textLength="51.5" lengthAdjust="spacingAndGlyphs" text-anchor="middle" font-weight="normal" font-family="'Liberation Serif',serif" transform="rotate(-7.5 191.2 31.5)">15.0000<tspan font-size="9.5" dy="-2.2">°</tspan></text><text x="85.6" y="91.3" font-size="12.9" textLength="51.7" lengthAdjust="spacingAndGlyphs" text-anchor="start" font-weight="normal" font-family="'Liberation Serif',serif">15.0000<tspan font-size="9.5" dy="-2.2">°</tspan></text><text x="226.4" y="65.3" font-size="12.9" textLength="51" lengthAdjust="spacingAndGlyphs" text-anchor="start" font-weight="normal" font-family="'Liberation Serif',serif">15.0000<tspan font-size="9.5" dy="-2.2">°</tspan></text><text x="296" y="101.9" font-size="12.9" textLength="51" lengthAdjust="spacingAndGlyphs" text-anchor="start" font-weight="normal" font-family="'Liberation Serif',serif">15.0000<tspan font-size="9.5" dy="-2.2">°</tspan></text><text x="152.11" y="177.85" font-size="12.9" textLength="54" lengthAdjust="spacingAndGlyphs" text-anchor="middle" font-weight="normal" font-family="'Liberation Serif',serif" transform="rotate(-41.31 152.11 177.85)">110.9004</text><text x="42.8" y="202.7" font-size="12.9" textLength="56.2" lengthAdjust="spacingAndGlyphs" text-anchor="start" font-weight="normal" font-family="'Liberation Serif',serif">R20.8378</text><text x="67.5" y="268" font-size="12.9" textLength="19.6" lengthAdjust="spacingAndGlyphs" text-anchor="start" font-weight="normal" font-family="'Liberation Serif',serif">130</text><text x="82.2" y="285" font-size="12.9" textLength="19.8" lengthAdjust="spacingAndGlyphs" text-anchor="start" font-weight="normal" font-family="'Liberation Serif',serif">120</text><text x="96.8" y="300.6" font-size="12.9" textLength="14.6" lengthAdjust="spacingAndGlyphs" text-anchor="start" font-weight="normal" font-family="'Liberation Serif',serif">90</text><text x="114.8" y="324.6" font-size="12.9" textLength="17.5" lengthAdjust="spacingAndGlyphs" text-anchor="start" font-weight="normal" font-family="'Liberation Serif',serif">110</text><text x="575.7" y="244.6" font-size="12.9" textLength="45.5" lengthAdjust="spacingAndGlyphs" text-anchor="middle" font-weight="normal" font-family="'Liberation Serif',serif" transform="rotate(-90 575.7 244.6)">76.7681</text><text x="453" y="173" font-size="12.9" textLength="51.2" lengthAdjust="spacingAndGlyphs" text-anchor="start" font-weight="normal" font-family="'Liberation Serif',serif">10.0000<tspan font-size="9.5" dy="-2.2">°</tspan></text><text x="287.3" y="311.7" font-size="12.9" textLength="51.7" lengthAdjust="spacingAndGlyphs" text-anchor="start" font-weight="normal" font-family="'Liberation Serif',serif">10.0000<tspan font-size="9.5" dy="-2.2">°</tspan></text><text x="441.7" y="212.37" font-size="12.9" textLength="51" lengthAdjust="spacingAndGlyphs" text-anchor="middle" font-weight="normal" font-family="'Liberation Serif',serif" transform="rotate(80 441.7 212.37)">20.0000<tspan font-size="9.5" dy="-2.2">°</tspan></text><text x="406.25" y="283.78" font-size="12.9" textLength="51" lengthAdjust="spacingAndGlyphs" text-anchor="middle" font-weight="normal" font-family="'Liberation Serif',serif" transform="rotate(-80 406.25 283.78)">20.0000<tspan font-size="9.5" dy="-2.2">°</tspan></text><text x="264" y="345.8" font-size="12.9" textLength="15" lengthAdjust="spacingAndGlyphs" text-anchor="start" font-weight="normal" font-family="'Liberation Serif',serif">R3</text><text x="296.3" y="356.9" font-size="12.9" textLength="14.5" lengthAdjust="spacingAndGlyphs" text-anchor="start" font-weight="normal" font-family="'Liberation Serif',serif">R3</text><text x="250.9" y="444.3" font-size="12.9" textLength="56.3" lengthAdjust="spacingAndGlyphs" text-anchor="start" font-weight="normal" font-family="'Liberation Serif',serif">125.7231<tspan font-size="9.5" dy="-2.2">°</tspan></text></g>
<g fill="none" stroke="#96e0e0" stroke-width="1.1"><ellipse cx="63.6" cy="264" rx="2.3" ry="2.9"/><path d="M60.9 268.3 L66.3 259.7"/><ellipse cx="78" cy="281" rx="2.3" ry="2.9"/><path d="M75.3 285.3 L80.7 276.7"/><ellipse cx="93.2" cy="296.6" rx="2.3" ry="2.9"/><path d="M90.5 300.9 L95.9 292.3"/><ellipse cx="110.3" cy="320.6" rx="2.3" ry="2.9"/><path d="M107.6 324.9 L113 316.3"/></g>
<g fill="#7cdcdc" stroke="#7cdcdc" stroke-width="0.3" font-size="22.2" font-family="'Liberation Serif','Noto Serif CJK SC',serif" text-anchor="start"><text x="440.95" y="345.14" textLength="115.9" lengthAdjust="spacing">區域周長為</text><text x="424.01" y="374.04">圓</text><text x="463.72" y="374.04" textLength="69.2" lengthAdjust="spacing">半徑為</text><text x="423.88" y="404.54">弧</text><text x="463.79" y="404.54" textLength="69.1" lengthAdjust="spacing">夾角為</text><text x="425.94" y="440.54" textLength="45.75" lengthAdjust="spacing">交點</text><text x="489.18" y="440.54" textLength="68.96" lengthAdjust="spacing">至交點</text><text x="573.17" y="440.54" textLength="68.25" lengthAdjust="spacing">距離為</text><text x="425.94" y="469.54" textLength="45.75" lengthAdjust="spacing">交點</text><text x="486.63" y="469.54" textLength="68.61" lengthAdjust="spacing">至交點</text><text x="571.83" y="469.54" textLength="68.39" lengthAdjust="spacing">高度為</text></g><g opacity="0.99" fill="#7cdcdc"><text x="411.5" y="345.2" font-size="26" textLength="12.8" lengthAdjust="spacingAndGlyphs" text-anchor="start" font-weight="normal" font-family="'Liberation Serif',serif">1.</text><text x="425.6" y="345.2" font-size="26" textLength="12.6" lengthAdjust="spacingAndGlyphs" text-anchor="start" font-weight="normal" font-family="'Liberation Serif',serif">A</text><text x="565.6" y="345.2" font-size="26" textLength="79.4" lengthAdjust="spacingAndGlyphs" text-anchor="start" font-weight="normal" font-family="'Liberation Serif',serif">521.5896</text><text x="410.5" y="374.1" font-size="26" textLength="15.3" lengthAdjust="spacingAndGlyphs" text-anchor="start" font-weight="normal" font-family="'Liberation Serif',serif">2.</text><text x="450.5" y="374.1" font-size="26" textLength="11.7" lengthAdjust="spacingAndGlyphs" text-anchor="start" font-weight="normal" font-family="'Liberation Serif',serif">B</text><text x="540.6" y="374.1" font-size="26" textLength="68.9" lengthAdjust="spacingAndGlyphs" text-anchor="start" font-weight="normal" font-family="'Liberation Serif',serif">20.8378</text><text x="410.5" y="404.6" font-size="26" textLength="15.3" lengthAdjust="spacingAndGlyphs" text-anchor="start" font-weight="normal" font-family="'Liberation Serif',serif">3.</text><text x="448.2" y="404.6" font-size="26" textLength="13.3" lengthAdjust="spacingAndGlyphs" text-anchor="start" font-weight="normal" font-family="'Liberation Serif',serif">C</text><text x="542" y="404.6" font-size="26" textLength="75.8" lengthAdjust="spacingAndGlyphs" text-anchor="start" font-weight="normal" font-family="'Liberation Serif',serif">125.7231</text><text x="410.3" y="440.6" font-size="26" textLength="14.3" lengthAdjust="spacingAndGlyphs" text-anchor="start" font-weight="normal" font-family="'Liberation Serif',serif">4.</text><text x="474.2" y="440.6" font-size="26" textLength="13.9" lengthAdjust="spacingAndGlyphs" text-anchor="start" font-weight="normal" font-family="'Liberation Serif',serif">D</text><text x="560.2" y="440.6" font-size="26" textLength="12.2" lengthAdjust="spacingAndGlyphs" text-anchor="start" font-weight="normal" font-family="'Liberation Serif',serif">E</text><text x="651.5" y="440.6" font-size="26" textLength="77.6" lengthAdjust="spacingAndGlyphs" text-anchor="start" font-weight="normal" font-family="'Liberation Serif',serif">110.9004</text><text x="410.3" y="469.6" font-size="26" textLength="14.3" lengthAdjust="spacingAndGlyphs" text-anchor="start" font-weight="normal" font-family="'Liberation Serif',serif">5.</text><text x="474.2" y="469.6" font-size="26" textLength="11.7" lengthAdjust="spacingAndGlyphs" text-anchor="start" font-weight="normal" font-family="'Liberation Serif',serif">F</text><text x="556.9" y="469.6" font-size="26" textLength="14.4" lengthAdjust="spacingAndGlyphs" text-anchor="start" font-weight="normal" font-family="'Liberation Serif',serif">G</text><text x="647.9" y="469.6" font-size="26" textLength="66.3" lengthAdjust="spacingAndGlyphs" text-anchor="start" font-weight="normal" font-family="'Liberation Serif',serif">76.7681</text></g>
<g opacity="0.99" fill="#dc1c1c" stroke="#ffd8d8" stroke-width="3.2" stroke-linejoin="round" paint-order="stroke"><text x="601.7" y="519.6" font-size="14.2" font-weight="bold" font-style="italic" font-family="'Liberation Sans',sans-serif" textLength="146.6" lengthAdjust="spacingAndGlyphs">www.3dportal.cn</text></g>
<g fill="#dc1c1c" stroke="#ffd8d8" stroke-width="3.2" stroke-linejoin="round" paint-order="stroke"><text x="549.2" y="519.8" font-size="16.5" font-weight="bold" font-style="italic" font-family="'Liberation Sans','Noto Sans CJK SC',sans-serif" textLength="52.4" lengthAdjust="spacingAndGlyphs">三维网</text></g>
<g fill="none" stroke="#ffd0d0" stroke-width="0.7" opacity="0.9"><text x="601.7" y="519.6" font-size="14.2" font-weight="bold" font-style="italic" font-family="'Liberation Sans',sans-serif" textLength="146.6" lengthAdjust="spacingAndGlyphs">www.3dportal.cn</text></g>
<g fill="none" stroke="#ffd0d0" stroke-width="0.7" opacity="0.9"><text x="549.2" y="519.8" font-size="16.5" font-weight="bold" font-style="italic" font-family="'Liberation Sans','Noto Sans CJK SC',sans-serif" textLength="52.4" lengthAdjust="spacingAndGlyphs">三维网</text></g>
</svg>
</body></html>
